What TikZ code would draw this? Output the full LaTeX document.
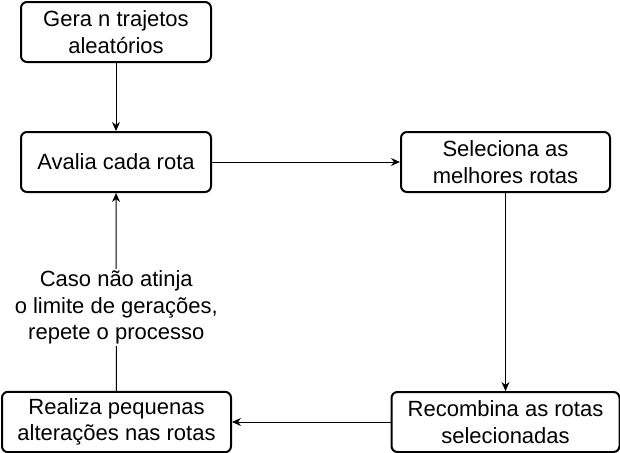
\documentclass[tikz,border=0pt]{standalone}
\usepackage{fontspec}
\setmainfont{Liberation Sans}
\usetikzlibrary{positioning,arrows.meta}

\begin{document}
\begin{tikzpicture}[x=0.5pt, y=-0.5pt, node distance = 65pt and 194.75pt, on grid,
                    font = \fontsize{11}{13.25}\selectfont,
                    stepbox/.style = {rectangle,
                                      rounded corners = 3pt,
                                      draw,
                                      line width = 1pt,
                                      align = center,
                                      minimum height = 30pt,
                                      minimum width = 95pt},
                    flow/.style    = {-{Stealth[length=4.5pt, width=4pt]},
                                      line width = 0.5pt}]

\useasboundingbox (0,0) rectangle (620,452);

\node[stepbox] (gera) at (116,32) {Gera n trajetos\\aleatórios};
\node[stepbox] (avalia) [below = of gera] {Avalia cada rota};
\node[stepbox] (seleciona) [right = of avalia, minimum width = 104.5pt] {Seleciona as\\melhores rotas};
\node[stepbox] (recombina) [below = 130pt of seleciona, minimum width = 114pt] {Recombina as rotas\\selecionadas};
\node[stepbox] (realiza) [left = 194.5pt of recombina, minimum width = 114.5pt] {Realiza pequenas\\alterações nas rotas};

\draw[flow] (gera) -- (avalia);
\draw[flow] (avalia) -- (seleciona);
\draw[flow] (seleciona) -- (recombina);
\draw[flow] (recombina) -- (realiza);
\draw[flow] (realiza) -- node[pos = 0.42, fill = white, align = center, inner sep = 1pt]
  {Caso não atinja\\o limite de gerações,\\repete o processo} (avalia);

\end{tikzpicture}
\end{document}
